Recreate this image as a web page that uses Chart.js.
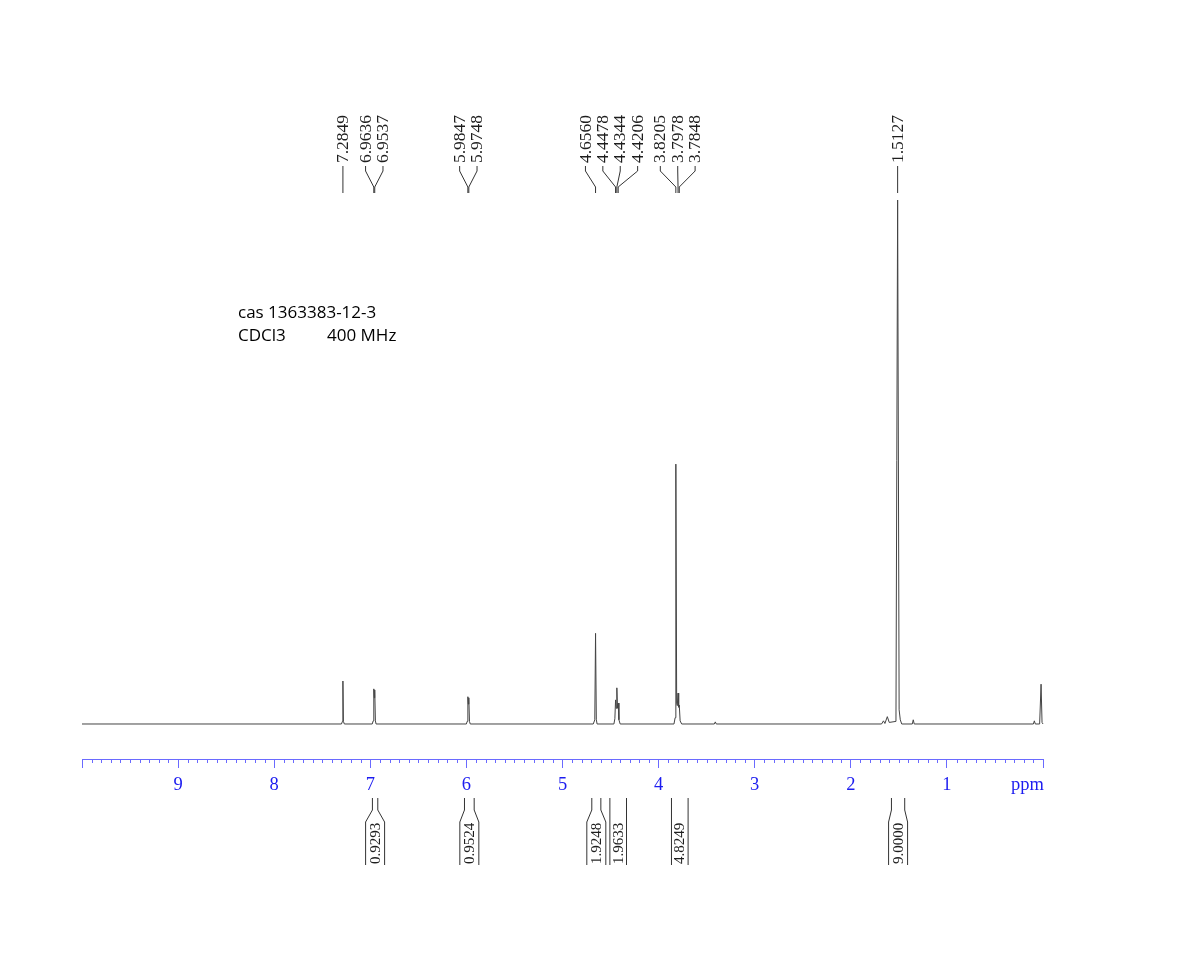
<!DOCTYPE html>
<html>
<head>
<meta charset="utf-8">
<script src="https://cdn.jsdelivr.net/npm/chart.js@4/dist/chart.umd.min.js"></script>
<style>
  html, body { margin: 0; padding: 0; background: #ffffff; }
  #wrap { position: relative; width: 1193px; height: 953px; }
  canvas { display: block; }
</style>
</head>
<body>
<div id="wrap"><canvas id="c" width="1193" height="953"></canvas></div>
<script>
// ---- Spectrum data (chemical shift in ppm, relative intensity) ----
const spectrumPpm = [
  10.0, 7.30, 7.290, 7.2849, 7.280, 7.27,
  6.98, 6.970, 6.9636, 6.9587, 6.9537, 6.947, 6.94,
  6.00, 5.992, 5.9847, 5.980, 5.9748, 5.968, 5.96,
  4.68, 4.664, 4.656, 4.648, 4.64,
  4.465, 4.455, 4.4478, 4.441, 4.4344, 4.428, 4.4206, 4.413, 4.40,
  3.84, 3.828, 3.8205, 3.812, 3.8055, 3.7978, 3.791, 3.7848, 3.776, 3.76,
  3.42, 3.41, 3.40,
  1.68, 1.66, 1.645, 1.62, 1.60, 1.53, 1.5127, 1.497, 1.485, 1.47,
  1.36, 1.35, 1.34,
  0.10, 0.09, 0.08,
  0.035, 0.02, 0.01, 0.0
];
const spectrumIntensity = [
  0, 0, 0.5, 8.2, 0.5, 0,
  0, 0.6, 6.7, 5.0, 6.5, 0.6, 0,
  0, 0.5, 5.2, 3.8, 5.0, 0.5, 0,
  0, 0.8, 17.3, 0.8, 0,
  0, 1.0, 4.6, 3.0, 6.9, 3.0, 4.0, 0.8, 0,
  0, 1.2, 49.6, 4.0, 3.5, 5.9, 3.2, 3.6, 0.6, 0,
  0, 0.4, 0,
  0, 0.6, 0.1, 1.4, 0.3, 0.5, 100, 2.7, 0.8, 0,
  0, 0.8, 0,
  0, 0.6, 0,
  0, 7.6, 0.3, 0
];

// ---- Peak picking labels ----
const peakLabels = [7.2849, 6.9636, 6.9537, 5.9847, 5.9748, 4.6560, 4.4478, 4.4344, 4.4206, 3.8205, 3.7978, 3.7848, 1.5127];

// ---- Integrals (from ppm, to ppm, value) ----
const integralFrom  = [6.978, 6.020, 4.695, 4.507, 3.866, 1.577];
const integralTo    = [6.922, 5.919, 4.601, 4.334, 3.693, 1.439];
const integralValue = ["0.9293", "0.9524", "1.9248", "1.9633", "4.8249", "9.0000"];

// ---- Axis ----
const axisMin = 0, axisMax = 10, majorStep = 1, minorStep = 0.1;
const axisUnit = "ppm";

// ---- Annotation text ----
const infoLine1 = "cas 1363383-12-3";
const infoSolvent = "CDCl3";
const infoFreq = "400 MHz";

const BLUE_LINE = '#6a6aff';
const BLUE_TEXT = '#1c1cf0';
const INK = '#1e1e1e';

const points = spectrumPpm.map((p, i) => ({ x: p, y: spectrumIntensity[i] }));

const decorPlugin = {
  id: 'nmrDecor',
  afterDraw(chart) {
    const ctx = chart.ctx;
    const xs = chart.scales.x;
    const area = chart.chartArea;

    // minor ticks
    ctx.save();
    ctx.strokeStyle = BLUE_LINE;
    ctx.lineWidth = 1;
    ctx.beginPath();
    const nMinor = Math.round((axisMax - axisMin) / minorStep);
    for (let i = 0; i <= nMinor; i++) {
      if (i % 10 === 0) continue;
      const v = axisMin + i * minorStep;
      const px = Math.round(xs.getPixelForValue(v)) + 0.5;
      ctx.moveTo(px, area.bottom);
      ctx.lineTo(px, area.bottom + 4);
    }
    ctx.stroke();
    // unit label
    ctx.fillStyle = BLUE_TEXT;
    ctx.font = '18.5px "Liberation Serif", "Times New Roman", serif';
    ctx.textAlign = 'right';
    ctx.textBaseline = 'middle';
    ctx.fillText(axisUnit, xs.getPixelForValue(axisMin) + 1, area.bottom + 26);
    ctx.restore();

    // peak labels
    const spacing = 17.4;
    let groups = peakLabels.map(p => ({ peaks: [p] }));
    const layoutGroup = g => {
      const pxs = g.peaks.map(p => xs.getPixelForValue(p));
      const c = pxs.reduce((a, b) => a + b, 0) / pxs.length;
      const n = pxs.length;
      g.labelX = pxs.map((_, i) => c + (i - (n - 1) / 2) * spacing);
      g.peakX = pxs;
    };
    let merged = true;
    while (merged) {
      merged = false;
      groups.forEach(layoutGroup);
      for (let i = 0; i < groups.length - 1; i++) {
        const a = groups[i], b = groups[i + 1];
        if (a.labelX[a.labelX.length - 1] + spacing > b.labelX[0] + 0.01) {
          groups.splice(i, 2, { peaks: a.peaks.concat(b.peaks) });
          merged = true;
          break;
        }
      }
    }
    groups.forEach(layoutGroup);

    ctx.save();
    ctx.strokeStyle = '#333';
    ctx.lineWidth = 1;
    ctx.fillStyle = INK;
    ctx.font = '17.5px "Liberation Serif", "Times New Roman", serif';
    const yTextStart = 163, yA = 166, yB = 171, yC = 187, yD = 193;
    groups.forEach(g => {
      g.peaks.forEach((p, i) => {
        const lx = g.labelX[i], px = g.peakX[i];
        ctx.beginPath();
        ctx.moveTo(lx, yA);
        ctx.lineTo(lx, yB);
        ctx.lineTo(px, yC);
        ctx.lineTo(px, yD);
        ctx.stroke();
        ctx.save();
        ctx.translate(lx + 0.5, yTextStart);
        ctx.rotate(-Math.PI / 2);
        ctx.textAlign = 'left';
        ctx.textBaseline = 'middle';
        ctx.fillText(p.toFixed(4), 0, 0);
        ctx.restore();
      });
    });
    ctx.restore();

    // integrals
    ctx.save();
    ctx.strokeStyle = '#333';
    ctx.lineWidth = 1;
    ctx.fillStyle = INK;
    ctx.font = '15px "Liberation Serif", "Times New Roman", serif';
    const iTop = 798, iFlareStart = 810, iFlareEnd = 822, iBottom = 865, minBox = 19;
    integralFrom.forEach((f, i) => {
      const x1 = xs.getPixelForValue(f), x2 = xs.getPixelForValue(integralTo[i]);
      const c = (x1 + x2) / 2;
      const w = x2 - x1;
      const half = Math.max(w, minBox) / 2;
      const bx1 = c - half, bx2 = c + half;
      ctx.beginPath();
      if (w >= minBox - 3) {
        ctx.moveTo(x1, iTop); ctx.lineTo(x1, iBottom);
        ctx.moveTo(x2, iTop); ctx.lineTo(x2, iBottom);
      } else {
        ctx.moveTo(x1, iTop); ctx.lineTo(x1, iFlareStart); ctx.lineTo(bx1, iFlareEnd); ctx.lineTo(bx1, iBottom);
        ctx.moveTo(x2, iTop); ctx.lineTo(x2, iFlareStart); ctx.lineTo(bx2, iFlareEnd); ctx.lineTo(bx2, iBottom);
      }
      ctx.stroke();
      ctx.save();
      ctx.translate(c + 0.5, iBottom - 1);
      ctx.rotate(-Math.PI / 2);
      ctx.textAlign = 'left';
      ctx.textBaseline = 'middle';
      ctx.fillText(integralValue[i], 0, 0);
      ctx.restore();
    });
    ctx.restore();

    // info text
    ctx.save();
    ctx.fillStyle = '#000';
    ctx.font = '17px "Open Sans", sans-serif';
    ctx.textAlign = 'left';
    ctx.textBaseline = 'alphabetic';
    ctx.fillText(infoLine1, 238, 318);
    ctx.fillText(infoSolvent, 238, 341);
    ctx.fillText(infoFreq, 327, 341);
    ctx.restore();
  }
};

const bgPlugin = {
  id: 'bg',
  beforeDraw(chart) {
    const ctx = chart.ctx;
    ctx.save();
    ctx.fillStyle = '#ffffff';
    ctx.fillRect(0, 0, chart.width, chart.height);
    ctx.restore();
  }
};

new Chart(document.getElementById('c'), {
  type: 'line',
  data: {
    datasets: [{
      data: points,
      borderColor: '#444444',
      borderWidth: 1,
      pointRadius: 0,
      tension: 0,
      fill: false,
      clip: false
    }]
  },
  options: {
    responsive: false,
    animation: false,
    events: [],
    layout: { padding: { top: 200, left: 82, right: 150, bottom: 154 } },
    plugins: { legend: { display: false }, tooltip: { enabled: false }, title: { display: false } },
    scales: {
      x: {
        type: 'linear',
        reverse: true,
        min: axisMin,
        max: axisMax,
        border: { display: true, color: BLUE_LINE, width: 1 },
        grid: { drawOnChartArea: false, drawTicks: true, tickLength: 9, color: BLUE_LINE, lineWidth: 1 },
        ticks: {
          stepSize: majorStep,
          autoSkip: false,
          maxRotation: 0,
          color: BLUE_TEXT,
          padding: 6,
          font: { family: '"Liberation Serif", "Times New Roman", serif', size: 18.5 },
          callback: v => (v > axisMin && v < axisMax) ? String(v) : ''
        },
        afterFit: s => { s.height = 40; }
      },
      y: {
        display: false,
        min: -6.68,
        max: 100
      }
    }
  },
  plugins: [bgPlugin, decorPlugin]
});
</script>
</body>
</html>
